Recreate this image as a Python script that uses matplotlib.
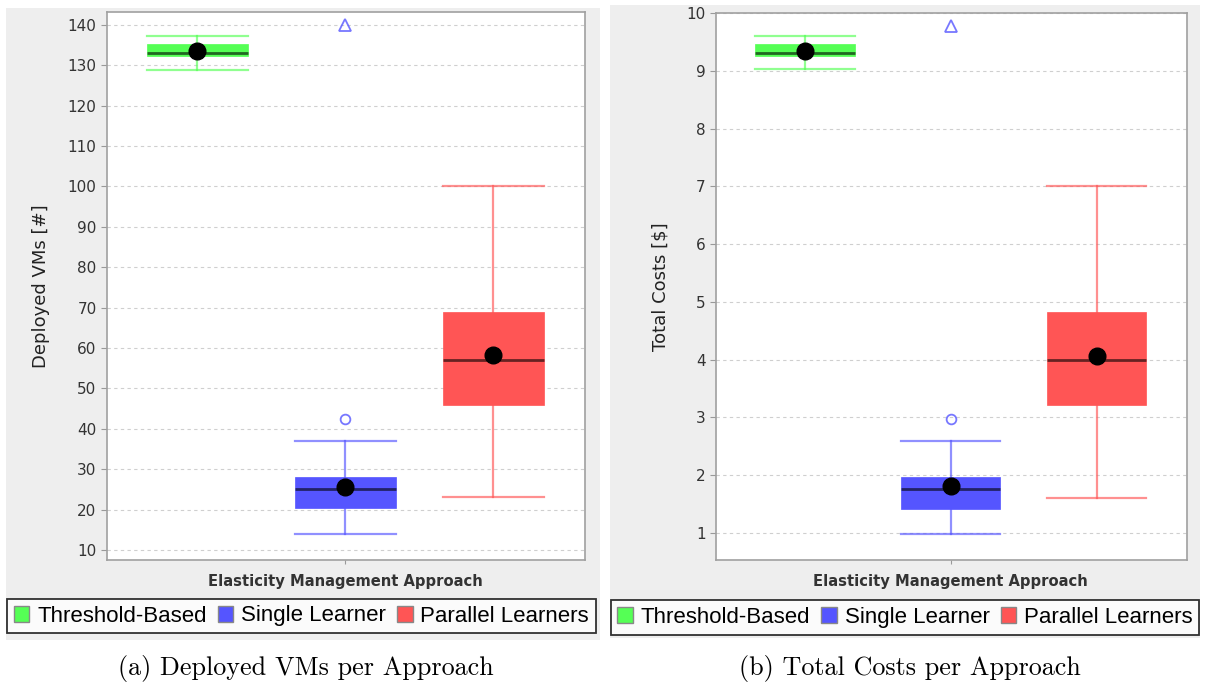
import matplotlib
matplotlib.use("Agg")
import matplotlib.pyplot as plt
from matplotlib.patches import Rectangle, Patch

approaches = ["Threshold-Based", "Single Learner", "Parallel Learners"]
box_colors = ["#55FF55", "#5555FF", "#FF5555"]

# five-number summaries + mean per approach: (whislo, q1, med, q3, whishi, mean)
vms_stats = [
    (128.8, 132.3, 133.05, 135.3, 137.3, 133.6),
    (14.0, 20.4, 25.1, 28.0, 36.9, 25.6),
    (23.0, 46.0, 57.1, 69.0, 100.0, 58.3),
]
vms_fliers = [[], [42.4], []]
vms_far_out = [None, 140.0, None]

cost_stats = [
    (9.03, 9.26, 9.31, 9.46, 9.60, 9.35),
    (0.98, 1.42, 1.76, 1.97, 2.59, 1.81),
    (1.61, 3.21, 3.99, 4.83, 7.00, 4.07),
]
cost_fliers = [[], [2.97], []]
cost_far_out = [None, 9.78, None]

W, H = 1205, 686
fig = plt.figure(figsize=(W / 100, H / 100), dpi=100)
fig.patch.set_facecolor("white")


def fx(px):
    return px / W


def fy(py):
    return 1 - py / H


def panel_bg(x0, y0, x1, y1):
    fig.patches.append(Rectangle((fx(x0), fy(y1)), fx(x1 - x0), (y1 - y0) / H,
                                 transform=fig.transFigure, facecolor="#EEEEEE",
                                 edgecolor="none", zorder=-1))


def draw_box_chart(rect, stats, fliers, far_out, ylim, yticks, ylabel, labelpad):
    ax = fig.add_axes(rect)
    ax.set_facecolor("white")
    bstats = []
    for (lo, q1, med, q3, hi, mean), fl in zip(stats, fliers):
        bstats.append(dict(whislo=lo, q1=q1, med=med, q3=q3, whishi=hi, mean=mean, fliers=fl))
    art = ax.bxp(bstats, positions=[0, 1, 2], widths=0.68, patch_artist=True,
                 showmeans=True, showcaps=True,
                 meanprops=dict(marker="o", markerfacecolor="black", markeredgecolor="black",
                                markersize=12),
                 flierprops=dict(marker="o", markerfacecolor="none", markersize=7,
                                 markeredgewidth=1.3),
                 capwidths=0.68)
    for i, c in enumerate(box_colors):
        art["boxes"][i].set_facecolor(c)
        art["boxes"][i].set_edgecolor(c)
        art["boxes"][i].set_linewidth(0.5)
        art["medians"][i].set_color("black")
        art["medians"][i].set_alpha(0.6)
        art["medians"][i].set_linewidth(2)
        for ln in art["whiskers"][2 * i:2 * i + 2] + art["caps"][2 * i:2 * i + 2]:
            ln.set_color(c)
            ln.set_alpha(0.65)
            ln.set_linewidth(1.6)
        art["fliers"][i].set_markeredgecolor(c)
        art["fliers"][i].set_alpha(0.8)
        art["boxes"][i].set_zorder(2)
        art["medians"][i].set_zorder(3)
        art["means"][i].set_zorder(4)
    for i, v in enumerate(far_out):
        if v is not None:
            ax.plot(i, v, marker="^", markerfacecolor="none", markeredgecolor=box_colors[i],
                    markersize=8, markeredgewidth=1.3, alpha=0.8, clip_on=False)

    ax.set_xlim(-0.61, 2.62)
    ax.set_ylim(*ylim)
    ax.set_yticks(yticks)
    ax.set_xticks([1])
    ax.set_xticklabels(["Elasticity Management Approach"], fontsize=10.6, fontweight="bold",
                       color="#333333")
    ax.tick_params(axis="x", length=3, color="#999999", pad=7)
    ax.tick_params(axis="y", length=4, color="#999999", labelsize=11, labelcolor="#333333")
    ax.grid(axis="y", color="#CFCFCF", linestyle=(0, (3, 3)), linewidth=0.8)
    ax.set_axisbelow(True)
    for s in ax.spines.values():
        s.set_color("#A0A0A0")
        s.set_linewidth(1.2)
    ax.set_ylabel(ylabel, fontsize=13, color="#222222", labelpad=labelpad)
    return ax


# left: deployed VMs
panel_bg(6, 8, 600, 640)
ax1 = draw_box_chart([fx(107), fy(560), fx(585 - 107), (560 - 12) / H],
                     vms_stats, vms_fliers, vms_far_out,
                     (7.5, 143.2), range(10, 141, 10), "Deployed VMs [#]", 13)

# right: total costs
panel_bg(610, 5, 1200, 638)
ax2 = draw_box_chart([fx(716), fy(560), fx(1187 - 716), (560 - 13) / H],
                     cost_stats, cost_fliers, cost_far_out,
                     (0.53, 10.0), range(1, 11), "Total Costs [\\$]", 12)

handles = [Patch(facecolor=c, edgecolor="#888888", linewidth=1) for c in box_colors]
for cx, cy in [(301.5, 616), (905, 617.5)]:
    leg = fig.legend(handles, approaches, loc="center", bbox_to_anchor=(fx(cx), fy(cy)),
                     ncol=3, frameon=True, fancybox=False,
                     prop=dict(family="Liberation Sans", size=16),
                     handlelength=0.7, handleheight=0.7, handletextpad=0.35,
                     columnspacing=0.5, borderpad=0.3, borderaxespad=0)
    leg.get_frame().set_edgecolor("black")
    leg.get_frame().set_linewidth(1.3)
    leg.get_frame().set_facecolor("white")

fig.text(fx(306), fy(668), "(a) Deployed VMs per Approach", ha="center", va="center",
         fontsize=18.8, family="cmr10")
fig.text(fx(910), fy(668), "(b) Total Costs per Approach", ha="center", va="center",
         fontsize=18.8, family="cmr10")

fig.savefig("out.png", dpi=100)
